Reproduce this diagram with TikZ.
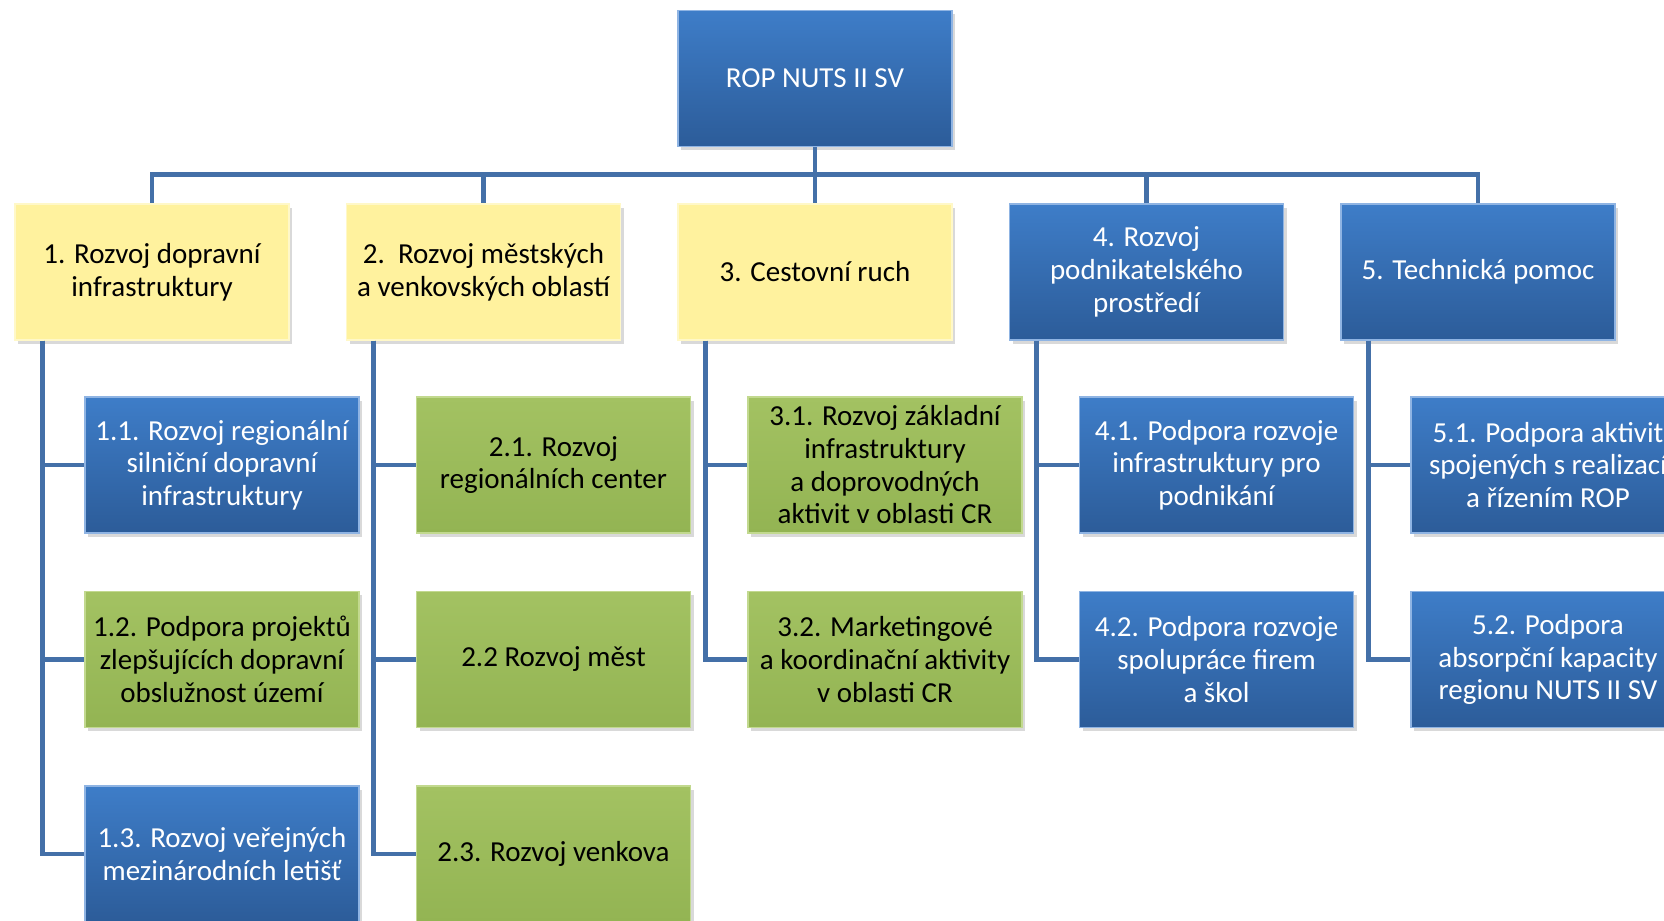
\documentclass[tikz,border=0pt]{standalone}
\usepackage{fontspec}
\setmainfont{Carlito}
\usetikzlibrary{shadows}

\definecolor{bluetop}{HTML}{3E7DC8}
\definecolor{bluebot}{HTML}{2C5C99}
\definecolor{blueedge}{HTML}{8FB4E3}
\definecolor{yellowbox}{HTML}{FFF29E}
\definecolor{yellowedge}{HTML}{FFF8C8}
\definecolor{greentop}{HTML}{A3C262}
\definecolor{greenbot}{HTML}{93B453}
\definecolor{greenedge}{HTML}{C2D98F}
\definecolor{linecol}{HTML}{4470A8}

\begin{document}
\begin{tikzpicture}
      \tikzstyle{STY0} = [rectangle, minimum height=2.72cm, minimum width=5.48cm, inner sep=1pt, align=center, font=\fontsize{16.5}{18.6}\selectfont, drop shadow={shadow xshift=0.06cm, shadow yshift=-0.07cm, opacity=0.3}]
      \tikzstyle{STY1} = [STY0, text=white, top color=bluetop, bottom color=bluebot, draw=blueedge, line width=0.8pt]
      \tikzstyle{STY2} = [STY0, text=black, fill=yellowbox, draw=yellowedge, line width=0.8pt]
      \tikzstyle{STY3} = [STY0, text=black, top color=greentop, bottom color=greenbot, draw=greenedge, line width=0.8pt]
      \tikzstyle{STY4} = [draw=linecol, line width=2.8pt]

      \useasboundingbox (0, 0) rectangle (33.28, -18.42);

      %%%%% VERTEX

      \node[STY1](v0) at ({(6.63*3 - 3.59)}, -1.57) {ROP NUTS II SV};

      \node[STY2](v1) at ({(6.63*1 - 3.59)}, -5.44) {1. Rozvoj dopravní\\infrastruktury};
      \node[STY2](v2) at ({(6.63*2 - 3.59)}, -5.44) {2.\ \ Rozvoj městských\\a venkovských oblastí};
      \node[STY2](v3) at ({(6.63*3 - 3.59)}, -5.44) {3. Cestovní ruch};
      \node[STY1](v4) at ({(6.63*4 - 3.59)}, -5.44) {4. Rozvoj\\podnikatelského\\prostředí};
      \node[STY1](v5) at ({(6.63*5 - 3.59)}, -5.44) {5. Technická pomoc};

      \node[STY1](v6) at ({(6.63*1 - 2.19)}, -9.30) {1.1. Rozvoj regionální\\silniční dopravní\\infrastruktury};
      \node[STY3](v7) at ({(6.63*1 - 2.19)}, -13.19) {1.2. Podpora projektů\\zlepšujících dopravní\\obslužnost území};
      \node[STY1](v8) at ({(6.63*1 - 2.19)}, -17.08) {1.3. Rozvoj veřejných\\mezinárodních letišť};

      \node[STY3](v9) at ({(6.63*2 - 2.19)}, -9.30) {2.1. Rozvoj\\regionálních center};
      \node[STY3](v10) at ({(6.63*2 - 2.19)}, -13.19) {2.2 Rozvoj měst};
      \node[STY3](v11) at ({(6.63*2 - 2.19)}, -17.08) {2.3. Rozvoj venkova};

      \node[STY3](v12) at ({(6.63*3 - 2.19)}, -9.30) {3.1. Rozvoj základní\\infrastruktury\\a doprovodných\\aktivit v oblasti CR};
      \node[STY3](v13) at ({(6.63*3 - 2.19)}, -13.19) {3.2. Marketingové\\a koordinační aktivity\\v oblasti CR};

      \node[STY1](v14) at ({(6.63*4 - 2.19)}, -9.30) {4.1. Podpora rozvoje\\infrastruktury pro\\podnikání};
      \node[STY1](v15) at ({(6.63*4 - 2.19)}, -13.19) {4.2. Podpora rozvoje\\spolupráce firem\\a škol};

      \node[STY1](v16) at ({(6.63*5 - 2.19)}, -9.30) {5.1. Podpora aktivit\\spojených s realizací\\a řízením ROP};
      \node[STY1](v17) at ({(6.63*5 - 2.19)}, -13.19) {5.2. Podpora\\absorpční kapacity\\regionu NUTS II SV};

      %%%%% EDGES

      \draw[STY4]  (v0.south) -- ++(0, -0.54) -| (v1.north);
      \draw[STY4]  (v0.south) -- ++(0, -0.54) -| (v2.north);
      \draw[STY4]  (v0.south) -- (v3.north);
      \draw[STY4]  (v0.south) -- ++(0, -0.54) -| (v4.north);
      \draw[STY4]  (v0.south) -- ++(0, -0.54) -| (v5.north);

      \draw[STY4]  ([xshift=0.56cm]v1.south west) |- (v6.west);
      \draw[STY4]  ([xshift=0.56cm]v1.south west) |- (v7.west);
      \draw[STY4]  ([xshift=0.56cm]v1.south west) |- (v8.west);

      \draw[STY4]  ([xshift=0.56cm]v2.south west) |- (v9.west);
      \draw[STY4]  ([xshift=0.56cm]v2.south west) |- (v10.west);
      \draw[STY4]  ([xshift=0.56cm]v2.south west) |- (v11.west);

      \draw[STY4]  ([xshift=0.56cm]v3.south west) |- (v12.west);
      \draw[STY4]  ([xshift=0.56cm]v3.south west) |- (v13.west);

      \draw[STY4]  ([xshift=0.56cm]v4.south west) |- (v14.west);
      \draw[STY4]  ([xshift=0.56cm]v4.south west) |- (v15.west);

      \draw[STY4]  ([xshift=0.56cm]v5.south west) |- (v16.west);
      \draw[STY4]  ([xshift=0.56cm]v5.south west) |- (v17.west);
    \end{tikzpicture}
\end{document}
